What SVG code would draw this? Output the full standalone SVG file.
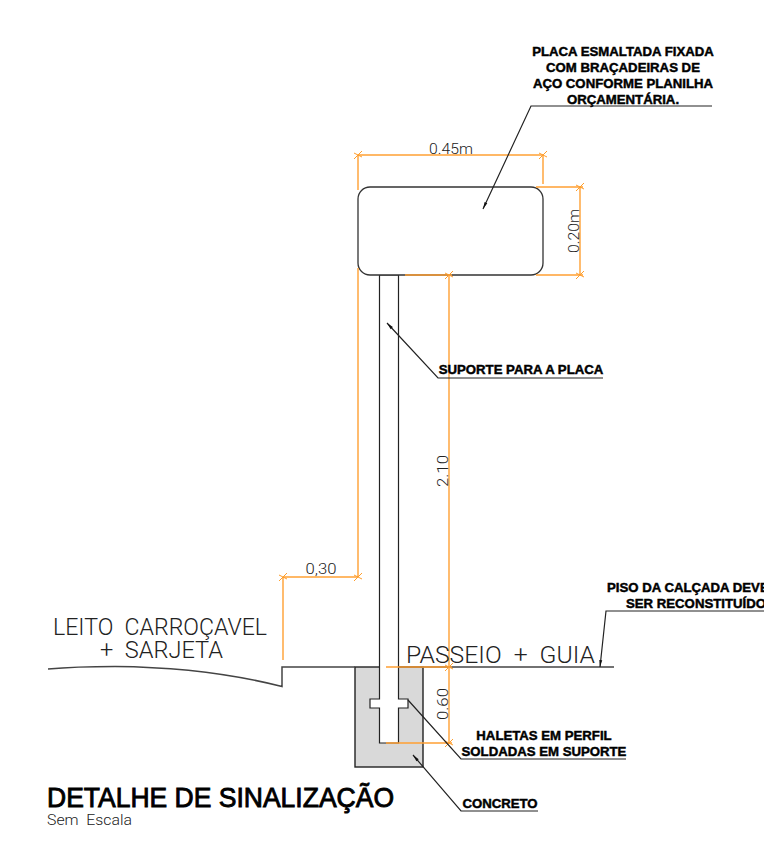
<svg xmlns="http://www.w3.org/2000/svg" width="764" height="855" viewBox="0 0 764 855">
<defs>
<style>
.o{fill:none;stroke:#ffa033;stroke-width:1.4}
.k{fill:none;stroke:#222;stroke-width:1.2}
.g{fill:none;stroke:#444;stroke-width:1.5}
.l{font-family:"Liberation Sans",Arial,sans-serif;font-weight:700;font-size:13.2px;fill:#000;stroke:#000;stroke-width:.45;text-anchor:middle}
.t{font-family:Roboto,"Liberation Sans",sans-serif;font-weight:300;fill:#222;text-anchor:middle;white-space:pre}
.b{font-size:23.5px;text-anchor:start}
.d{font-size:15px}
</style>
<marker id="tk" viewBox="-5 -5 10 10" markerWidth="10" markerHeight="10" markerUnits="userSpaceOnUse" orient="0"><path d="M-4 4L4 -4M-4 -2L4 2" stroke="#ff9e2c" stroke-width="1" fill="none"/></marker>
<marker id="ah" viewBox="-8 -3 9 6" markerWidth="9" markerHeight="6" markerUnits="userSpaceOnUse" orient="auto"><path d="M-7 -1.500L0 0L-7 1.500Z" fill="#111"/></marker>
</defs>
<rect width="764" height="855" fill="#fff"/>
<g id="concreto-base"><rect x="355" y="667" width="68" height="100" fill="#d9d9d9" stroke="#222" stroke-width="1.4"/></g>
<g id="suporte"><path d="M379.500 275V699H370V708H379.500V743H398.500V708H408V699H398.500V275Z" fill="#fff" stroke="#222" stroke-width="1.2"/></g>
<g id="placa"><rect x="358" y="187" width="185" height="88" rx="12" fill="#fff" stroke="#333" stroke-width="1.3"/></g>
<g id="terreno">
<path class="g" d="M48 669C70 667 95 666.500 115 666.500C170 667 225 672 282 686.500V667H355M399 667H614"/>
</g>
<g id="connectors">
<path class="o" d="M358 155V190M358 268V577M543 155V184M536 187H583M536 275H583M405 275H452M386 667H452M386 743H452M283 577V660"/>
<path class="o" marker-start="url(#tk)" marker-end="url(#tk)" d="M358 155H543"/>
<path class="o" marker-start="url(#tk)" marker-end="url(#tk)" d="M580 187V275"/>
<path class="o" marker-start="url(#tk)" marker-end="url(#tk)" d="M449 275V667"/>
<path class="o" marker-end="url(#tk)" d="M449 667V743"/>
<path class="o" marker-start="url(#tk)" marker-end="url(#tk)" d="M283 577H358"/>
<path class="k" marker-end="url(#ah)" d="M712 106H531L483 209"/>
<path class="k" marker-end="url(#ah)" d="M603 378H438L387 323"/>
<path class="k" marker-end="url(#ah)" d="M764 611H606L600 667"/>
<path class="k" d="M626 759H461L408 700"/>
<path class="k" marker-end="url(#ah)" d="M538 811H461L413 755"/>
</g>
<g id="rotulos">
<text class="l"><tspan x="623" y="56">PLACA ESMALTADA FIXADA</tspan><tspan x="623" y="72">COM BRAÇADEIRAS DE</tspan><tspan x="623" y="88">AÇO CONFORME PLANILHA</tspan><tspan x="623" y="104">ORÇAMENTÁRIA.</tspan></text>
<text class="l" x="521" y="374">SUPORTE PARA A PLACA</text>
<text class="l" style="text-anchor:start"><tspan x="607" y="592">PISO DA CALÇADA DEVE</tspan><tspan x="626" y="608">SER RECONSTITUÍDO</tspan></text>
<text class="l"><tspan x="544" y="740">HALETAS EM PERFIL</tspan><tspan x="544" y="756">SOLDADAS EM SUPORTE</tspan></text>
<text class="l" x="500" y="808">CONCRETO</text>
<text x="47" y="807" font-family="Liberation Sans,Arial,sans-serif" font-weight="400" font-size="28" stroke="#000" stroke-width=".9" textLength="347" lengthAdjust="spacingAndGlyphs">DETALHE DE SINALIZAÇÃO</text>
<text class="t" x="47" y="825" font-size="14" style="text-anchor:start" textLength="85" lengthAdjust="spacingAndGlyphs">Sem  Escala</text>
</g>
<g id="cotas">
<text class="t d" x="451" y="154" textLength="44" lengthAdjust="spacingAndGlyphs">0.45m</text>
<text class="t d" transform="translate(579 231) rotate(-90)" textLength="44" lengthAdjust="spacingAndGlyphs">0.20m</text>
<text class="t d" transform="translate(448 471) rotate(-90)" textLength="32" lengthAdjust="spacingAndGlyphs">2.10</text>
<text class="t d" transform="translate(448 704) rotate(-90)" textLength="32" lengthAdjust="spacingAndGlyphs">0.60</text>
<text class="t d" x="321" y="574" textLength="31" lengthAdjust="spacingAndGlyphs">0,30</text>
<text class="t b" x="53" y="635" textLength="214" lengthAdjust="spacingAndGlyphs">LEITO  CARROÇAVEL</text>
<text class="t b" x="100" y="658" textLength="123" lengthAdjust="spacingAndGlyphs">+  SARJETA</text>
<text class="t b" x="406" y="663" textLength="189" lengthAdjust="spacingAndGlyphs">PASSEIO  +  GUIA</text>
</g>
</svg>
